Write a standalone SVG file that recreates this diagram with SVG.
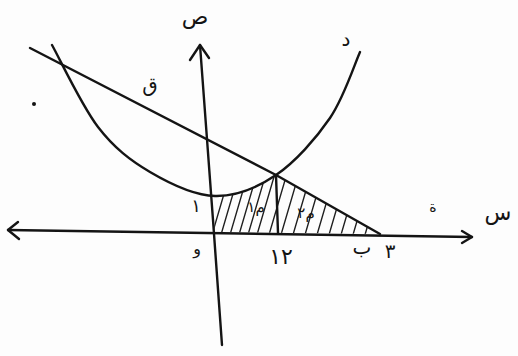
<svg xmlns="http://www.w3.org/2000/svg" width="518" height="356" viewBox="0 0 518 356">
<defs>
<style>
.ln{fill:none;stroke:#141414;stroke-width:2.4;stroke-linecap:round;stroke-linejoin:round}
.ht{fill:none;stroke:#202020;stroke-width:1.4;stroke-linecap:round}
.t{font-family:"DejaVu Sans",sans-serif;fill:#141414}
</style>
<clipPath id="shade">
<path d="M214,232 L215,196 C236,196.5 256.8,188 276,175 L380,234 Z"/>
</clipPath>
</defs>
<rect width="518" height="356" fill="#fdfdfd"/>
<g id="axes">
<path class="ln" d="M8,230 L472,237"/>
<path class="ln" d="M18,222 L8,230 L19,239"/>
<path class="ln" d="M462,231 L472,237 L462,243"/>
<path class="ln" d="M200,45 L213,220 L222,345"/>
<path class="ln" d="M190,60 L200,45 L209,58"/>
</g>
<g id="hatch" clip-path="url(#shade)">
<path class="ht" d="M200,245 L222,170 M209,245 L231,170 M218,245 L240,170 M227,245 L249,170 M236,245 L258,170 M245,245 L267,170 M254,245 L276,170 M266,245 L288,170 M278,245 L300,170 M290,245 L312,170 M302,245 L324,170 M314,245 L336,170 M326,245 L348,170 M338,245 L360,170 M350,245 L372,170 M362,245 L384,170"/>
</g>
<g id="curves">
<path id="parabola" class="ln" d="M52,45 C59.7,58.7 81.7,105.8 98,127 C114.3,148.2 130.5,160.5 150,172 C169.5,183.5 194,195.5 215,196 C236,196.5 256.8,188 276,175 C295.2,162 316,138.5 330,118 C344,97.5 355,63 360,52"/>
<path id="line" class="ln" d="M30,48 L276,175 L380,234"/>
<path id="vertical" class="ln" d="M276,175 L278,233"/>
</g>
<g id="labels">
<text class="t" x="195" y="24" font-size="22" text-anchor="middle">ص</text>
<text class="t" x="346" y="46" font-size="20" text-anchor="middle">د</text>
<text class="t" x="150" y="92" font-size="20" text-anchor="middle">ق</text>
<text class="t" x="498" y="220" font-size="22" text-anchor="middle">س</text>
<text class="t" x="433" y="212" font-size="14" text-anchor="middle">ة</text>
<text class="t" x="196" y="212" font-size="18" text-anchor="middle">١</text>
<text class="t" x="197" y="254" font-size="16" text-anchor="middle">و</text>
<text class="t" x="281" y="264" font-size="22" text-anchor="middle">١٢</text>
<text class="t" x="362" y="254" font-size="20" text-anchor="middle">ب</text>
<text class="t" x="390" y="258" font-size="20" text-anchor="middle">٣</text>
<text class="t" x="256" y="212" font-size="15" text-anchor="middle">م١</text>
<text class="t" x="306" y="218" font-size="15" text-anchor="middle">م٢</text>
<circle cx="34" cy="104" r="2" fill="#141414"/>
</g>
</svg>
